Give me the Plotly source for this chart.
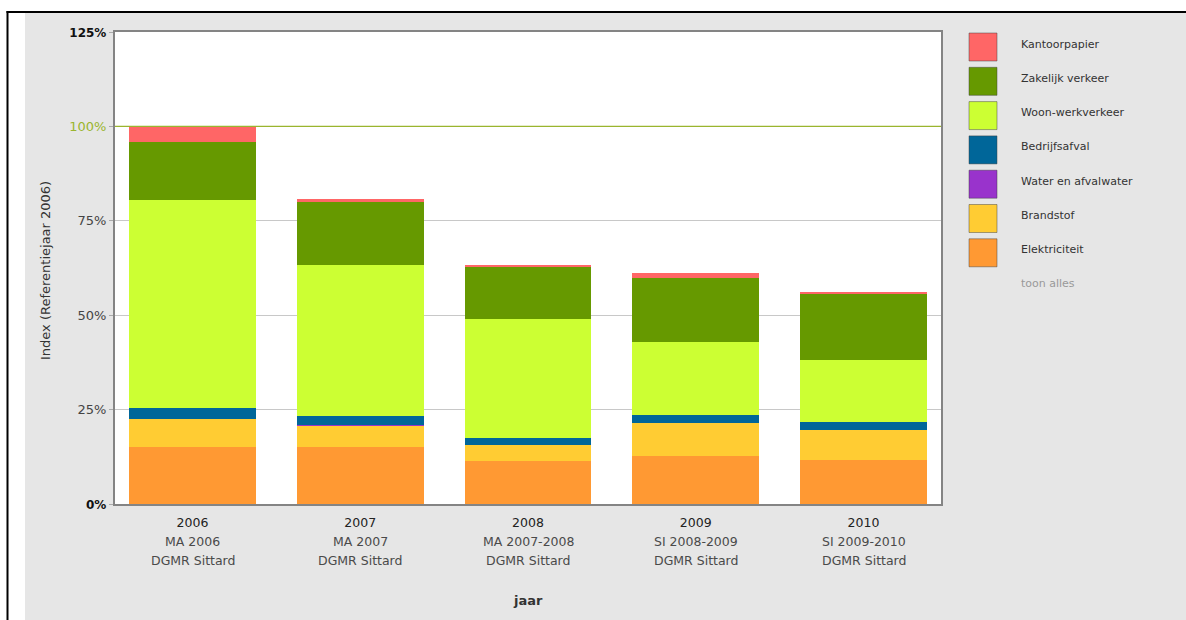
import plotly.graph_objects as go

# ---- data ----
years = ["2006", "2007", "2008", "2009", "2010"]
sub1 = ["MA 2006", "MA 2007", "MA 2007-2008", "SI 2008-2009", "SI 2009-2010"]
sub2 = ["DGMR Sittard"] * 5

elektriciteit = [15.2, 15.2, 11.5, 12.7, 11.6]
brandstof = [7.2, 5.5, 4.0, 8.7, 8.0]
water = [0.1, 0.1, 0.1, 0.1, 0.1]
bedrijfsafval = [2.9, 2.4, 1.8, 2.2, 2.0]
woonwerk = [55.1, 40.0, 31.6, 19.1, 16.4]
zakelijk = [15.4, 16.8, 13.8, 17.1, 17.4]
kantoorpapier = [4.1, 0.7, 0.6, 1.4, 0.6]

y_tickvals = [0, 25, 50, 75, 100, 125]
y_ticktext = ["<b style='font-size:12px;color:#111'>0%</b>", "25%", "50%", "75%",
              "<span style='color:#9ab52e'>100%</span>",
              "<b style='font-size:12px;color:#111'>125%</b>"]

series = [
    ("Elektriciteit", elektriciteit, "#ff9933"),
    ("Brandstof", brandstof, "#ffcc33"),
    ("Water en afvalwater", water, "#9933cc"),
    ("Bedrijfsafval", bedrijfsafval, "#006699"),
    ("Woon-werkverkeer", woonwerk, "#ccff33"),
    ("Zakelijk verkeer", zakelijk, "#669900"),
    ("Kantoorpapier", kantoorpapier, "#ff6666"),
]

# ---- layout geometry (pixels) ----
W, H = 1186, 620
PL, PR, PT, PB = 115, 941, 32, 504
PW, PH = PR - PL, PB - PT


def px(x):
    return (x - PL) / PW


def py(y):
    return (PB - y) / PH


FONT = "DejaVu Sans, Verdana, sans-serif"

fig = go.Figure()
for name, vals, col in series:
    fig.add_trace(go.Bar(x=years, y=vals, name=name, marker_color=col,
                         marker_line_width=0, showlegend=False))

shapes = []
annotations = []

# page framing: white strips + black border lines
shapes.append(dict(type="rect", xref="paper", yref="paper", x0=px(-2), x1=px(25),
                   y0=py(622), y1=py(-2), fillcolor="white", line_width=0, layer="below"))
shapes.append(dict(type="rect", xref="paper", yref="paper", x0=px(-2), x1=px(1188),
                   y0=py(13), y1=py(-2), fillcolor="white", line_width=0, layer="below"))
shapes.append(dict(type="line", xref="paper", yref="paper", x0=px(7.5), x1=px(7.5),
                   y0=py(11), y1=py(622), line=dict(color="black", width=2)))
shapes.append(dict(type="line", xref="paper", yref="paper", x0=px(6.5), x1=px(1188),
                   y0=py(12), y1=py(12), line=dict(color="black", width=2)))

# 100% reference line
shapes.append(dict(type="line", xref="paper", yref="y", x0=0, x1=1, y0=100, y1=100,
                   line=dict(color="#9ab52e", width=1.2), layer="above"))

# custom legend (top to bottom)
for i, (name, vals, col) in enumerate(reversed(series)):
    cy = 47 + 34.3 * i
    shapes.append(dict(type="rect", xref="paper", yref="paper",
                       x0=px(969), x1=px(997), y0=py(cy + 14), y1=py(cy - 14),
                       fillcolor=col, line=dict(color="rgba(60,60,60,0.45)", width=1)))
    annotations.append(dict(xref="paper", yref="paper", x=px(1019), y=py(cy - 3),
                            xanchor="left", yanchor="middle", showarrow=False,
                            text=name, font=dict(family=FONT, size=11, color="#333333")))
annotations.append(dict(xref="paper", yref="paper", x=px(1019), y=py(283),
                        xanchor="left", yanchor="middle", showarrow=False,
                        text="toon alles", font=dict(family=FONT, size=11, color="#999999")))

# extra x label lines (category index positions)
for i, (s1, s2) in enumerate(zip(sub1, sub2)):
    annotations.append(dict(xref="x", yref="paper", x=i, y=py(541), showarrow=False,
                            xanchor="center", yanchor="middle", text=s1,
                            font=dict(family=FONT, size=12.5, color="#4a4a4a")))
    annotations.append(dict(xref="x", yref="paper", x=i, y=py(560), showarrow=False,
                            xanchor="center", yanchor="middle", text=s2,
                            font=dict(family=FONT, size=12.5, color="#4a4a4a")))

# axis titles
annotations.append(dict(xref="paper", yref="paper", x=px(45), y=py(271), showarrow=False,
                        textangle=-90, xanchor="center", yanchor="middle",
                        text="Index (Referentiejaar 2006)",
                        font=dict(family=FONT, size=13, color="#333333")))
annotations.append(dict(xref="paper", yref="paper", x=0.5, y=py(600), showarrow=False,
                        xanchor="center", yanchor="middle", text="<b>jaar</b>",
                        font=dict(family=FONT, size=13, color="#333333")))

fig.update_layout(
    width=W, height=H,
    margin=dict(l=PL, r=W - PR, t=PT, b=H - PB, pad=0),
    paper_bgcolor="#e6e6e6",
    plot_bgcolor="white",
    barmode="stack",
    bargap=0.243,
    shapes=shapes,
    annotations=annotations,
    font=dict(family=FONT, size=12, color="#333333"),
    xaxis=dict(type="category", range=[-0.462, 4.462], showline=True, mirror=True,
               linecolor="#848484", linewidth=2, showgrid=False, ticks="outside",
               ticklen=6, tickcolor="rgba(0,0,0,0)",
               tickfont=dict(family=FONT, size=12.5, color="#222222"), fixedrange=True),
    yaxis=dict(range=[0, 125], tickvals=y_tickvals, ticktext=y_ticktext,
               showline=True, mirror=True, linecolor="#848484", linewidth=2,
               showgrid=True, gridcolor="#c8c8c8", gridwidth=1, zeroline=False,
               ticks="outside", ticklen=4, tickcolor="#aaaaaa",
               tickfont=dict(family=FONT, size=13, color="#444444"), fixedrange=True),
)

fig.write_html(
    "out.html",
    config={"displayModeBar": False, "staticPlot": True},
    post_script="document.body.style.margin='0';document.body.style.overflow='hidden';",
)
